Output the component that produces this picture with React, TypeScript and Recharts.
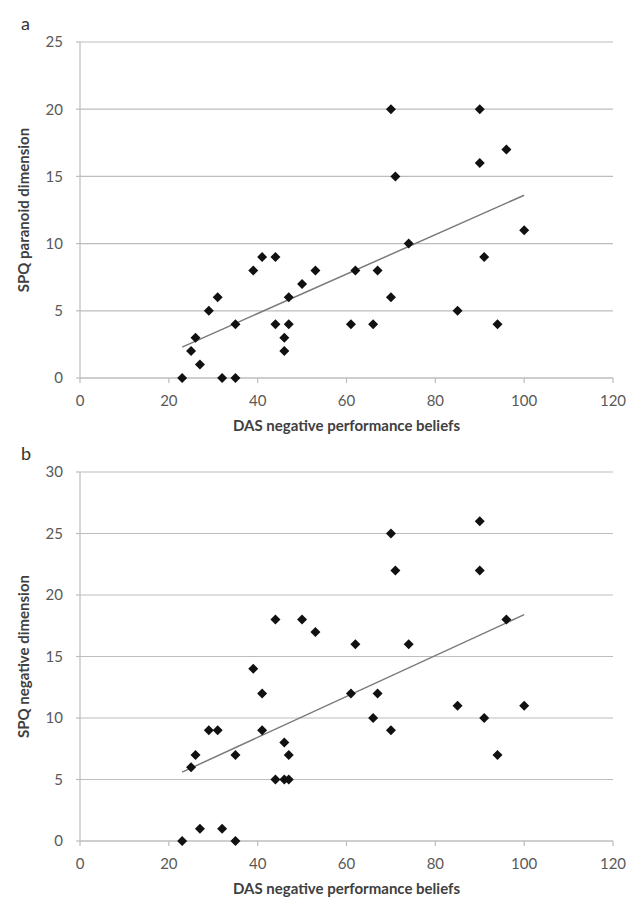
import React from "react";
import {
  ScatterChart,
  Scatter,
  XAxis,
  YAxis,
  CartesianGrid,
  ReferenceLine,
  Label,
} from "recharts";

// DAS negative performance beliefs (x) for panel a
const xA = [23, 25, 26, 27, 29, 31, 32, 35, 35, 39, 41, 44, 44, 46, 46, 47, 47, 50, 53, 61, 62, 66, 67, 70, 74, 85, 91, 94, 100, 70, 71, 90, 90, 96];
// SPQ paranoid dimension (y) for panel a
const yA = [0, 2, 3, 1, 5, 6, 0, 0, 4, 8, 9, 9, 4, 3, 2, 6, 4, 7, 8, 4, 8, 4, 8, 6, 10, 5, 9, 4, 11, 20, 15, 20, 16, 17];

// DAS negative performance beliefs (x) for panel b
const xB = [23, 25, 26, 27, 29, 31, 32, 35, 35, 39, 41, 41, 44, 44, 46, 46, 47, 47, 50, 53, 61, 62, 66, 67, 70, 74, 85, 91, 94, 100, 70, 71, 90, 90, 96];
// SPQ negative dimension (y) for panel b
const yB = [0, 6, 7, 1, 9, 9, 1, 0, 7, 14, 12, 9, 5, 18, 8, 5, 5, 7, 18, 17, 12, 16, 10, 12, 9, 16, 11, 10, 7, 11, 25, 22, 26, 22, 18];

// trend line endpoints
const trendA = [
  { x: 23, y: 2.3 },
  { x: 100, y: 13.6 },
];
const trendB = [
  { x: 23, y: 5.6 },
  { x: 100, y: 18.4 },
];

const xTicks = [0, 20, 40, 60, 80, 100, 120];
const yTicksA = [0, 5, 10, 15, 20, 25];
const yTicksB = [0, 5, 10, 15, 20, 25, 30];

const dataA = xA.map((x, i) => ({ x, y: yA[i] }));
const dataB = xB.map((x, i) => ({ x, y: yB[i] }));

const FONT = "Lato, 'Open Sans', sans-serif";
const GRID = "#bdbdbd";
const TICK = { fill: "#595959", fontSize: 15, fontFamily: FONT };
const LABEL_STYLE = {
  fill: "#404040",
  fontSize: 15,
  fontWeight: 700,
  fontFamily: FONT,
  textAnchor: "middle" as const,
};

const Diamond = (props: any) => {
  const { cx, cy } = props;
  if (cx == null || cy == null) return null;
  const r = 5;
  return (
    <polygon
      points={`${cx},${cy - r} ${cx + r},${cy} ${cx},${cy + r} ${cx - r},${cy}`}
      fill="#111"
    />
  );
};

function Panel(props: {
  data: { x: number; y: number }[];
  trend: { x: number; y: number }[];
  yTicks: number[];
  yMax: number;
  yLabel: string;
  height: number;
  top: number;
  bottom: number;
}) {
  const { data, trend, yTicks, yMax, yLabel, height, top, bottom } = props;
  return (
    <ScatterChart
      width={627}
      height={height}
      margin={{ top, right: 14, bottom, left: 50 }}
    >
      <CartesianGrid horizontal vertical={false} stroke={GRID} strokeWidth={1.2} />
      <XAxis
        type="number"
        dataKey="x"
        domain={[0, 120]}
        ticks={xTicks}
        interval={0}
        height={30}
        stroke={GRID}
        strokeWidth={1.2}
        tickSize={5}
        tickMargin={12}
        tick={TICK}
      >
        <Label
          value="DAS negative performance beliefs"
          position="bottom"
          offset={12}
          style={LABEL_STYLE}
        />
      </XAxis>
      <YAxis
        type="number"
        dataKey="y"
        domain={[0, yMax]}
        ticks={yTicks}
        interval={0}
        width={30}
        stroke={GRID}
        strokeWidth={1.2}
        tickSize={4}
        tickMargin={13}
        tick={TICK}
      >
        <Label
          value={yLabel}
          angle={-90}
          position="left"
          offset={26}
          style={LABEL_STYLE}
        />
      </YAxis>
      <ReferenceLine
        segment={trend}
        stroke="#7a7a7a"
        strokeWidth={1.5}
        ifOverflow="visible"
      />
      <Scatter data={data} shape={<Diamond />} isAnimationActive={false} />
    </ScatterChart>
  );
}

export default function App() {
  const letter: React.CSSProperties = {
    position: "absolute",
    left: 21,
    fontFamily: FONT,
    fontSize: 18,
    color: "#333",
    lineHeight: 1,
  };
  return (
    <div style={{ position: "absolute", left: 0, top: 0, width: 627, height: 897, background: "#fff" }}>
      <div style={{ ...letter, top: 14 }}>a</div>
      <div style={{ ...letter, top: 444 }}>b</div>
      <div style={{ position: "absolute", left: 0, top: 0 }}>
        <Panel
          data={dataA}
          trend={trendA}
          yTicks={yTicksA}
          yMax={25}
          yLabel="SPQ paranoid dimension"
          height={440}
          top={42}
          bottom={32}
        />
      </div>
      <div style={{ position: "absolute", left: 0, top: 440 }}>
        <Panel
          data={dataB}
          trend={trendB}
          yTicks={yTicksB}
          yMax={30}
          yLabel="SPQ negative dimension"
          height={457}
          top={32}
          bottom={26}
        />
      </div>
    </div>
  );
}
